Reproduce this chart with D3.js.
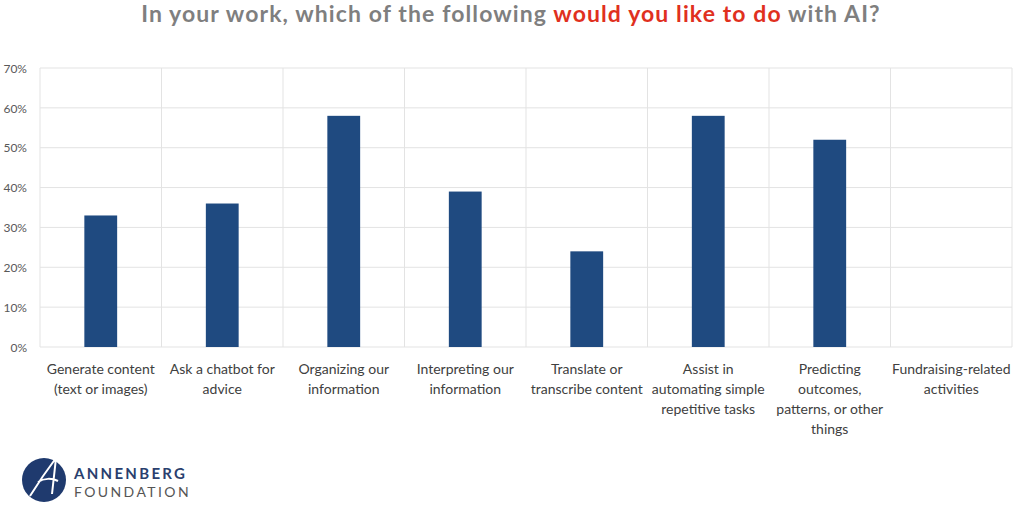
<!DOCTYPE html>
<html><head><meta charset="utf-8">
<script src="https://cdn.jsdelivr.net/npm/d3@7"></script>
<style>body{margin:0;background:#fff}svg{display:block}</style>
</head><body><svg id="c" width="1013" height="506"></svg>
<script>
const categories = [
  ["Generate content","(text or images)"],
  ["Ask a chatbot for","advice"],
  ["Organizing our","information"],
  ["Interpreting our","information"],
  ["Translate or","transcribe content"],
  ["Assist in","automating simple","repetitive tasks"],
  ["Predicting","outcomes,","patterns, or other","things"],
  ["Fundraising-related","activities"]
];
const values = [0.33, 0.36, 0.58, 0.39, 0.24, 0.58, 0.52, 0];
const yTicks = [0, 0.1, 0.2, 0.3, 0.4, 0.5, 0.6, 0.7];

const svg = d3.select("#c");
const font = "'Lato','Open Sans',sans-serif";
const L = 40, R = 1012, T = 68, B = 347;

const x = d3.scaleBand().domain(d3.range(categories.length)).range([L, R]).paddingInner(0).paddingOuter(0);
const y = d3.scaleLinear().domain([0, 0.7]).range([B, T]);

// title
const title = svg.append("text").attr("x", 511).attr("y", 22).attr("text-anchor", "middle")
  .style("font-family", font).style("font-weight", "bold").style("font-size", "23px")
  .style("letter-spacing", "1.1px");
title.append("tspan").attr("fill", "#7f7f7f").text("In your work, which of the following ");
title.append("tspan").attr("fill", "#e0301e").text("would you like to do");
title.append("tspan").attr("fill", "#7f7f7f").text(" with AI?");

// horizontal grid
svg.append("g").selectAll("line").data(yTicks).join("line")
  .attr("x1", L).attr("x2", R).attr("y1", d => y(d)).attr("y2", d => y(d))
  .attr("stroke", "#e3e3e3").attr("stroke-width", 1);
// vertical grid
const vx = d3.range(categories.length + 1).map(i => i < categories.length ? x(i) : R);
svg.append("g").selectAll("line").data(vx).join("line")
  .attr("x1", d => d).attr("x2", d => d).attr("y1", T).attr("y2", B)
  .attr("stroke", "#e3e3e3").attr("stroke-width", 1);

// y axis labels
const yAxis = d3.axisLeft(y).tickValues(yTicks).tickFormat(d3.format(".0%")).tickSize(0).tickPadding(0);
const ya = svg.append("g").attr("transform", `translate(27,0)`).call(yAxis);
ya.select(".domain").remove();
ya.selectAll("text").style("font-family", font).style("font-size", "12px").attr("fill", "#595959").attr("dy", "0.35em");

// bars
const bw = x.bandwidth() * 0.27;
svg.append("g").selectAll("rect").data(values).join("rect")
  .attr("x", (d, i) => x(i) + x.bandwidth() / 2 - bw / 2)
  .attr("width", bw)
  .attr("y", d => y(d)).attr("height", d => B - y(d))
  .attr("fill", "#1f4a80");

// x labels
const xl = svg.append("g");
categories.forEach((lines, i) => {
  const t = xl.append("text").attr("text-anchor", "middle")
    .attr("x", x(i) + x.bandwidth() / 2).attr("y", 374)
    .style("font-family", font).style("font-size", "14px").attr("fill", "#404040");
  lines.forEach((ln, j) => t.append("tspan").attr("x", x(i) + x.bandwidth() / 2).attr("dy", j === 0 ? 0 : 20).text(ln));
});

// logo
const logo = svg.append("g");
logo.append("circle").attr("cx", 44).attr("cy", 480).attr("r", 22).attr("fill", "#1f3a6e");
logo.append("path").attr("d", "M30,496 C40,480 50,466 56,458 L52,494 M38,482 C44,478 52,478 58,481")
  .attr("stroke", "#fff").attr("stroke-width", 2).attr("fill", "none");
logo.append("text").attr("x", 74).attr("y", 479).text("ANNENBERG")
  .style("font-family", font).style("font-weight", "bold").style("font-size", "15px").style("letter-spacing", "2.3px").attr("fill", "#2a3f6e");
logo.append("text").attr("x", 74).attr("y", 497).text("FOUNDATION")
  .style("font-family", font).style("font-size", "14px").style("letter-spacing", "2.4px").attr("fill", "#555");
</script></body></html>
